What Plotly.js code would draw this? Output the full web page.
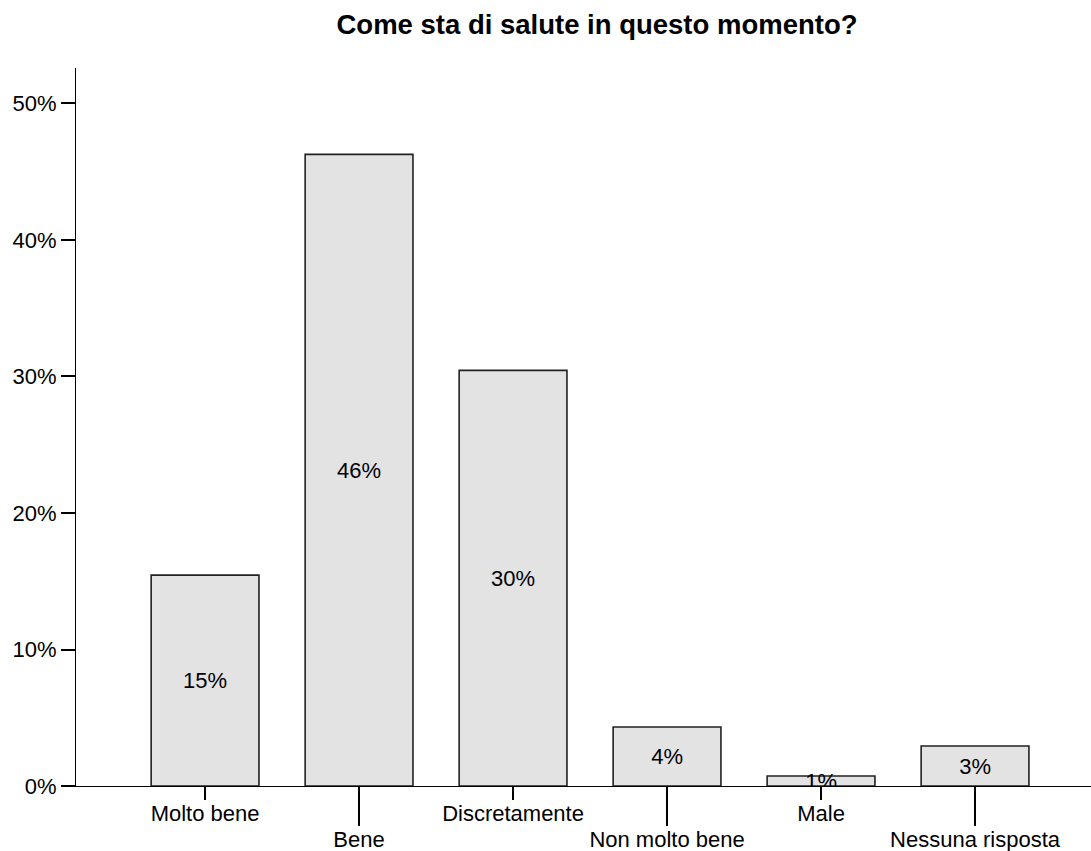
<!DOCTYPE html>
<html>
<head>
<meta charset="utf-8">
<script src="https://cdn.plot.ly/plotly-3.0.1.min.js"></script>
<style>html,body{margin:0;padding:0;background:#fff;}#chart{width:1091px;height:851px;}</style>
</head>
<body>
<div id="chart"></div>
<script>
// Data
const categories = ["Molto bene", "Bene", "Discretamente", "Non molto bene", "Male", "Nessuna risposta"];
const percentages = [15.45, 46.27, 30.45, 4.32, 0.73, 2.93];
const barLabels = ["15%", "46%", "30%", "4%", "1%", "3%"];
const yTickValues = [0, 10, 20, 30, 40, 50];
const titleText = "Come sta di salute in questo momento?";

const idx = categories.map((c, i) => i);
const shortIdx = idx.filter(i => i % 2 === 0);
const longIdx = idx.filter(i => i % 2 === 1);

const FONT = "Liberation Sans, Arial, sans-serif";
const FS = 22;

const traces = [
  {
    type: "bar",
    x: idx,
    y: percentages,
    text: barLabels,
    textposition: "inside",
    insidetextanchor: "middle",
    constraintext: "none",
    textangle: 0,
    cliponaxis: true,
    insidetextfont: {family: FONT, size: FS, color: "#000"},
    marker: {color: "#e3e3e3", line: {color: "#222", width: 1.6}},
    hoverinfo: "skip",
    showlegend: false
  },
  {
    type: "scatter",
    x: [0],
    y: [null],
    xaxis: "x2",
    yaxis: "y",
    mode: "markers",
    hoverinfo: "skip",
    showlegend: false
  }
];

const xr = [-0.838, 5.753];

const layout = {
  width: 1091,
  height: 851,
  margin: {l: 76, r: 0, t: 68, b: 65},
  paper_bgcolor: "#fff",
  plot_bgcolor: "#fff",
  font: {family: FONT, size: FS, color: "#000"},
  bargap: 0.30,
  showlegend: false,
  title: {
    text: "<b>" + titleText + "</b>",
    font: {family: FONT, size: 27.5, color: "#000"},
    xref: "container",
    x: 597 / 1091,
    xanchor: "center",
    yref: "container",
    y: 1 - 24 / 851,
    yanchor: "middle"
  },
  xaxis: {
    range: xr,
    showgrid: false,
    zeroline: false,
    showline: true,
    linecolor: "#000",
    linewidth: 1,
    ticks: "outside",
    ticklen: 13,
    tickwidth: 2,
    tickcolor: "#000",
    tickmode: "array",
    tickvals: shortIdx,
    ticktext: shortIdx.map(i => categories[i]),
    tickfont: {family: FONT, size: FS, color: "#000"},
    ticklabelstandoff: -5,
    anchor: "y",
    fixedrange: true
  },
  xaxis2: {
    range: xr,
    overlaying: "x",
    side: "bottom",
    anchor: "y",
    showgrid: false,
    zeroline: false,
    showline: false,
    ticks: "outside",
    ticklen: 39,
    tickwidth: 2,
    tickcolor: "#000",
    tickmode: "array",
    tickvals: longIdx,
    ticktext: longIdx.map(i => categories[i]),
    tickfont: {family: FONT, size: FS, color: "#000"},
    ticklabelstandoff: -5,
    fixedrange: true
  },
  yaxis: {
    range: [0, 52.6],
    showgrid: false,
    zeroline: false,
    showline: true,
    linecolor: "#000",
    linewidth: 1,
    ticks: "outside",
    ticklen: 14,
    tickwidth: 2,
    tickcolor: "#000",
    tickmode: "array",
    tickvals: yTickValues,
    ticktext: yTickValues.map(v => v + "%"),
    tickfont: {family: FONT, size: FS, color: "#000"},
    fixedrange: true
  }
};

Plotly.newPlot("chart", traces, layout, {displayModeBar: false, staticPlot: true});
</script>
</body>
</html>
